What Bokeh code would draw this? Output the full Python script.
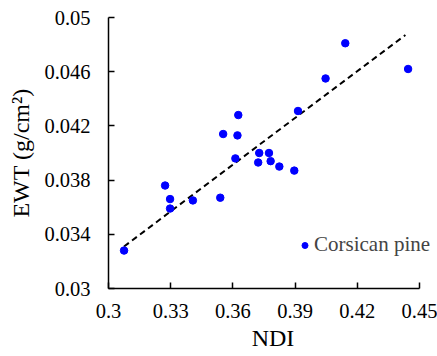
from bokeh.plotting import figure
from bokeh.models import (ColumnDataSource, Legend, LegendItem, FixedTicker, Range1d,
                          CustomJSTickFormatter)
from bokeh.embed import file_html
from bokeh.resources import INLINE

# data
ndi = [0.3075, 0.3273, 0.3297, 0.3297, 0.3407, 0.3539, 0.3553, 0.3626, 0.3622, 0.3612,
       0.3727, 0.3722, 0.3774, 0.3782, 0.3824, 0.3896, 0.3914, 0.4047, 0.4142, 0.4445]
ewt = [0.0328, 0.0376, 0.0366, 0.0359, 0.0365, 0.0367, 0.0414, 0.0428, 0.0413, 0.0396,
       0.0400, 0.0393, 0.0400, 0.0394, 0.0390, 0.0387, 0.0431, 0.0455, 0.0481, 0.0462]
x_ticks = [0.3, 0.33, 0.36, 0.39, 0.42, 0.45]
y_ticks = [0.03, 0.034, 0.038, 0.042, 0.046, 0.05]
series_name = "Corsican pine"
x_title = "NDI"
y_title = "EWT (g/cm²)"
# dashed trend line as drawn in the picture
trend_slope = 0.115
trend_intercept = -0.00226
trend_x_start = 0.3075
trend_x_end = 0.4432

FONT = "Liberation Serif"

X0, X1 = 0.3, 0.45
plot_w = 437 - 108
axis_w = 419 - 108
x_end = X0 + (X1 - X0) * plot_w / axis_w

p = figure(width=437, height=356, output_backend="svg", toolbar_location=None,
           x_range=Range1d(X0, x_end), y_range=Range1d(0.03, 0.05),
           min_border_left=108, min_border_right=0, min_border_top=17, min_border_bottom=68)
p.outline_line_color = None
p.xgrid.visible = False
p.ygrid.visible = False
p.xaxis.bounds = (X0, X1)

xs = [trend_x_start, trend_x_end]
p.line(xs, [trend_slope * v + trend_intercept for v in xs],
       line_color="black", line_width=2, line_dash="6 4")

src = ColumnDataSource(dict(x=ndi, y=ewt))
r = p.scatter("x", "y", source=src, size=7.5, fill_color="#0000FF", line_color="#0000FF")

legend = Legend(items=[LegendItem(label=series_name, renderers=[r])], location=(189, 31),
                background_fill_alpha=0, border_line_alpha=0, padding=0, margin=0,
                glyph_width=15, glyph_height=20, label_height=20, label_standoff=2,
                label_text_font=FONT, label_text_font_size="21px")
p.add_layout(legend)

fmt = CustomJSTickFormatter(code="return String(Number(tick.toPrecision(6)));")
for ax in (p.xaxis[0], p.yaxis[0]):
    ax.major_tick_in = 6
    ax.major_tick_out = 0
    ax.minor_tick_in = 0
    ax.minor_tick_out = 0
    ax.axis_line_color = "black"
    ax.axis_line_width = 1.5
    ax.major_tick_line_width = 1.5
    ax.formatter = fmt
    ax.major_label_text_font = FONT
    ax.major_label_text_font_size = "20.5px"
    ax.major_label_text_color = "black"
    ax.axis_label_text_font = FONT
    ax.axis_label_text_font_size = "24px"
    ax.axis_label_text_font_style = "normal"
    ax.axis_label_text_color = "black"

p.xaxis.ticker = FixedTicker(ticks=x_ticks)
p.yaxis.ticker = FixedTicker(ticks=y_ticks)
p.xaxis.axis_label = x_title
p.yaxis.axis_label = y_title
p.xaxis.major_label_standoff = 15
p.yaxis.major_label_standoff = 18
p.xaxis.axis_label_standoff = 4
p.yaxis.axis_label_standoff = 7

open("out.html", "w").write(file_html(p, INLINE))
